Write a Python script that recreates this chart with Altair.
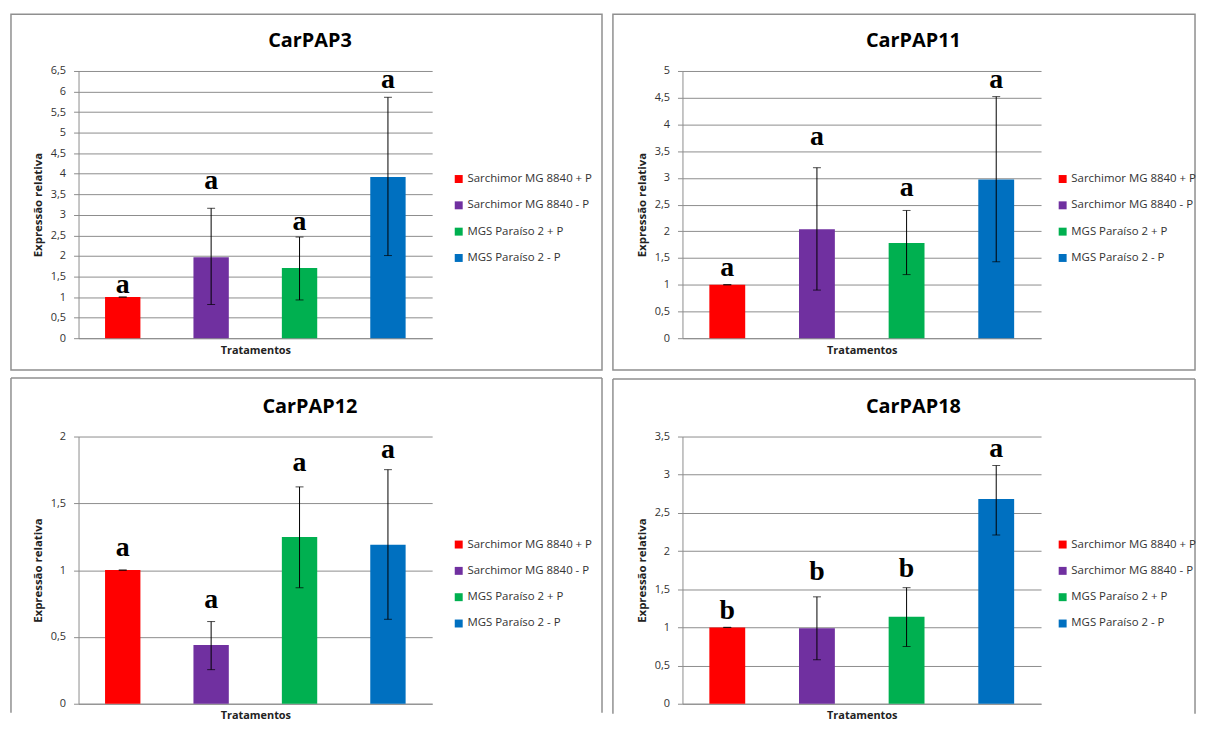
import altair as alt
import pandas as pd

treatments = ["Sarchimor MG 8840 + P", "Sarchimor MG 8840 - P", "MGS Paraíso 2 + P", "MGS Paraíso 2 - P"]
colors = ["#FF0000", "#7030A0", "#00B050", "#0070C0"]

titles = ["CarPAP3", "CarPAP11", "CarPAP12", "CarPAP18"]

means_3 = [1.0, 1.97, 1.71, 3.92]
lo_3 = [1.0, 0.82, 0.93, 2.01]
hi_3 = [1.0, 3.16, 2.46, 5.86]
letters_3 = ["a", "a", "a", "a"]
letter_y_3 = [1.09, 3.63, 2.63, 6.09]
ticks_3 = [0, 0.5, 1, 1.5, 2, 2.5, 3, 3.5, 4, 4.5, 5, 5.5, 6, 6.5]

means_11 = [1.0, 2.04, 1.78, 2.97]
lo_11 = [1.0, 0.90, 1.19, 1.43]
hi_11 = [1.0, 3.19, 2.39, 4.52]
letters_11 = ["a", "a", "a", "a"]
letter_y_11 = [1.17, 3.62, 2.66, 4.68]
ticks_11 = [0, 0.5, 1, 1.5, 2, 2.5, 3, 3.5, 4, 4.5, 5]

means_12 = [1.0, 0.44, 1.248, 1.19]
lo_12 = [1.0, 0.255, 0.868, 0.632]
hi_12 = [1.0, 0.615, 1.623, 1.752]
letters_12 = ["a", "a", "a", "a"]
letter_y_12 = [1.107, 0.72, 1.74, 1.836]
ticks_12 = [0, 0.5, 1, 1.5, 2]

means_18 = [1.0, 0.99, 1.14, 2.68]
lo_18 = [1.0, 0.576, 0.75, 2.21]
hi_18 = [1.0, 1.40, 1.52, 3.12]
letters_18 = ["b", "b", "b", "a"]
letter_y_18 = [1.116, 1.615, 1.66, 3.23]
ticks_18 = [0, 0.5, 1, 1.5, 2, 2.5, 3, 3.5]

SANS = "Open Sans"
GRID = "#8c8c8c"
FRAME = "#8f8f8f"
H = 269


def panel(title, means, lo, hi, letters, letter_y, ticks, width, frame, open_bottom,
          title_dx, legend_dx):
    df = pd.DataFrame({"trat": treatments, "mean": means, "lo": lo, "hi": hi,
                       "letter": letters, "ly": letter_y})
    ymax = ticks[-1]
    xs = alt.Scale(domain=treatments, paddingInner=0.6, paddingOuter=0.3)
    ysc = alt.Scale(domain=[0, ymax], nice=False, zero=True)
    xaxis = alt.Axis(labels=False, ticks=False, title="Tratamentos",
                     titleFont=SANS, titleFontSize=11, titleFontWeight="bold",
                     titleColor="#222", titleX=width / 2, titleY=12,
                     titleBaseline="middle", domainColor=GRID)
    yaxis = alt.Axis(values=ticks, labelExpr="replace(toString(datum.value), '.', ',')",
                     title="Expressão  relativa", titleFont=SANS, titleFontSize=11.5,
                     titleFontWeight="bold", titleColor="#222",
                     titleX=-40, titleY=H / 2, titleBaseline="middle", titleAlign="center",
                     labelFont=SANS, labelFontSize=11, labelColor="#333",
                     labelPadding=8, tickSize=5, tickColor=GRID, domainColor=GRID,
                     grid=True, gridColor=GRID, gridWidth=1)
    x = alt.X("trat:N", sort=treatments, scale=xs, axis=xaxis)
    base = alt.Chart(df)
    bars = base.mark_bar().encode(
        x=x,
        y=alt.Y("mean:Q", scale=ysc, axis=yaxis),
        color=alt.Color("trat:N", scale=alt.Scale(domain=treatments, range=colors),
                        legend=alt.Legend(title=None, orient="none", legendX=width + legend_dx,
                                          legendY=103,
                                          symbolType="square", symbolSize=64, symbolStrokeWidth=0,
                                          labelFont=SANS, labelFontSize=11.5, labelColor="#333",
                                          labelOffset=3, rowPadding=13.5, padding=0,
                                          labelLimit=128)),
    )
    err = base.mark_rule(color="black", strokeWidth=1).encode(
        x=x, y=alt.Y("lo:Q", scale=ysc, axis=yaxis), y2="hi:Q")
    cap_hi = base.mark_tick(color="black", size=8, thickness=1).encode(
        x=x, y=alt.Y("hi:Q", scale=ysc, axis=yaxis))
    cap_lo = base.mark_tick(color="black", size=8, thickness=1).encode(
        x=x, y=alt.Y("lo:Q", scale=ysc, axis=yaxis))
    txt = base.mark_text(font="Liberation Serif", fontWeight="bold", fontSize=28,
                         baseline="alphabetic", color="black").encode(
        x=x, y=alt.Y("ly:Q", scale=ysc, axis=yaxis), text="letter:N")

    one = pd.DataFrame({"k": [0]})
    fx1, fx2, fy1, fy2 = frame
    if open_bottom:
        fr = alt.layer(
            alt.Chart(one).mark_rule(color=FRAME, strokeWidth=1.5).encode(
                x=alt.value(fx1), y=alt.value(fy1), y2=alt.value(fy2)),
            alt.Chart(one).mark_rule(color=FRAME, strokeWidth=1.5).encode(
                x=alt.value(fx2), y=alt.value(fy1), y2=alt.value(fy2)),
            alt.Chart(one).mark_rule(color=FRAME, strokeWidth=1.5).encode(
                x=alt.value(fx1), x2=alt.value(fx2), y=alt.value(fy1)),
        )
    else:
        fr = alt.Chart(one).mark_rect(fillOpacity=0, stroke=FRAME, strokeWidth=1.5).encode(
            x=alt.value(fx1), x2=alt.value(fx2), y=alt.value(fy1), y2=alt.value(fy2))

    ttl = alt.Chart(one).mark_text(font=SANS, fontSize=20, fontWeight="bold", color="black",
                                   baseline="alphabetic", align="center").encode(
        x=alt.value(width / 2 + title_dx), y=alt.value(-24), text=alt.value(title))

    return alt.layer(fr, ttl, bars, err, cap_hi, cap_lo, txt).properties(width=width, height=H)


p1 = panel(titles[0], means_3, lo_3, hi_3, letters_3, letter_y_3, ticks_3, 356,
           (-68, 527, -57, 301), False, 55, 21)
p2 = panel(titles[1], means_11, lo_11, hi_11, letters_11, letter_y_11, ticks_11, 361,
           (-70, 516, -57, 301), False, 52, 16)
p3 = panel(titles[2], means_12, lo_12, hi_12, letters_12, letter_y_12, ticks_12, 356,
           (-68, 527, -59, 278), True, 55, 21)
p4 = panel(titles[3], means_18, lo_18, hi_18, letters_18, letter_y_18, ticks_18, 361,
           (-70, 516, -58, 279), True, 52, 16)

chart = alt.concat(p1, p2, p3, p4, columns=2, spacing={"row": 99, "column": 252},
                   bounds="flush").resolve_scale(
    color="independent", y="independent", x="independent"
).properties(
    padding={"left": 2, "top": 3, "right": 0, "bottom": 0},
    background="white",
).configure_view(stroke=None)

chart.save("out.html", embed_options={"renderer": "svg", "actions": False})
